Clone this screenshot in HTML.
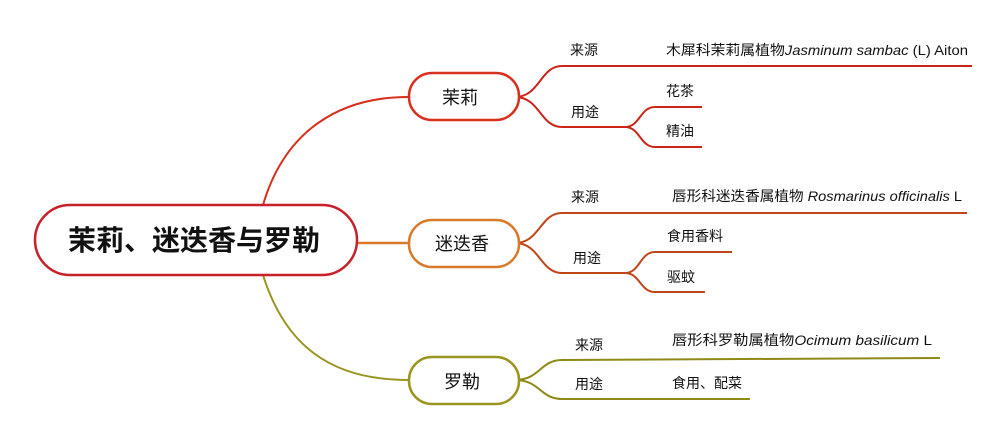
<!DOCTYPE html>
<html><head><meta charset="utf-8"><style>
html,body{margin:0;padding:0;background:#fff;}
svg{display:block;}
text{font-family:"Liberation Sans","Noto Sans CJK SC",sans-serif;fill:#111;}
</style></head><body>
<svg width="1000" height="429" viewBox="0 0 1000 429" xmlns="http://www.w3.org/2000/svg">
<g fill="none" stroke-width="2">
<path d="M263 205 C285 130 340 97 408 97" stroke="#d8301e"/>
<path d="M357 243 L408 243" stroke="#d87a2a" stroke-width="2.5"/>
<path d="M263 275 C285 345 330 380 408 380" stroke="#9a9420"/>
<g stroke="#cc2418">
<path d="M515 97 C540 97 540 66 562 66 L972 66"/>
<path d="M515 97 C540 97 540 127 562 127 L625 127"/>
<path d="M625 127 C640 127 640 107 655 107 L702 107"/>
<path d="M625 127 C640 127 640 147 655 147 L702 147"/>
</g>
<g stroke="#c0461a">
<path d="M515 243 C540 243 540 213 562 213 L967 213"/>
<path d="M515 243 C540 243 540 273 562 273 L625 273"/>
<path d="M625 273 C640 273 640 252 655 252 L732 252"/>
<path d="M625 273 C640 273 640 292 655 292 L705 292"/>
</g>
<g stroke="#8f8a18">
<path d="M515 380 C540 380 540 360 562 360 L940 358"/>
<path d="M515 380 C540 380 540 399 562 399 L750 399"/>
</g>
<rect x="35" y="205" width="322" height="70" rx="35" fill="#fff" stroke="#c8202a" stroke-width="2.5"/>
<rect x="409" y="73" width="110" height="47" rx="23" fill="#fff" stroke="#d8301e" stroke-width="2.5"/>
<rect x="409" y="220" width="110" height="47" rx="23" fill="#fff" stroke="#d87a2a" stroke-width="2.5"/>
<rect x="409" y="357" width="110" height="47" rx="23" fill="#fff" stroke="#9a9420" stroke-width="2.5"/>
</g>
<text x="194" y="250" font-size="28" font-weight="bold" text-anchor="middle">茉莉、迷迭香与罗勒</text>
<text x="460" y="104" font-size="18" text-anchor="middle">茉莉</text>
<text x="462" y="250" font-size="18" text-anchor="middle">迷迭香</text>
<text x="462" y="388" font-size="18" text-anchor="middle">罗勒</text>
<g font-size="14">
<text x="570" y="55">来源</text>
<text x="571" y="117">用途</text>
<text x="666" y="55" textLength="302" lengthAdjust="spacingAndGlyphs">木犀科茉莉属植物<tspan font-style="italic">Jasminum sambac</tspan> (L) Aiton</text>
<text x="666" y="96">花茶</text>
<text x="666" y="136">精油</text>
<text x="571" y="202">来源</text>
<text x="573" y="263">用途</text>
<text x="672" y="201" textLength="290" lengthAdjust="spacingAndGlyphs">唇形科迷迭香属植物 <tspan font-style="italic">Rosmarinus officinalis</tspan> L</text>
<text x="667" y="241">食用香料</text>
<text x="667" y="282">驱蚊</text>
<text x="575" y="350">来源</text>
<text x="575" y="389">用途</text>
<text x="672" y="345" textLength="260" lengthAdjust="spacingAndGlyphs">唇形科罗勒属植物<tspan font-style="italic">Ocimum basilicum</tspan>  L</text>
<text x="672" y="388">食用、配菜</text>
</g>
</svg>
</body></html>
